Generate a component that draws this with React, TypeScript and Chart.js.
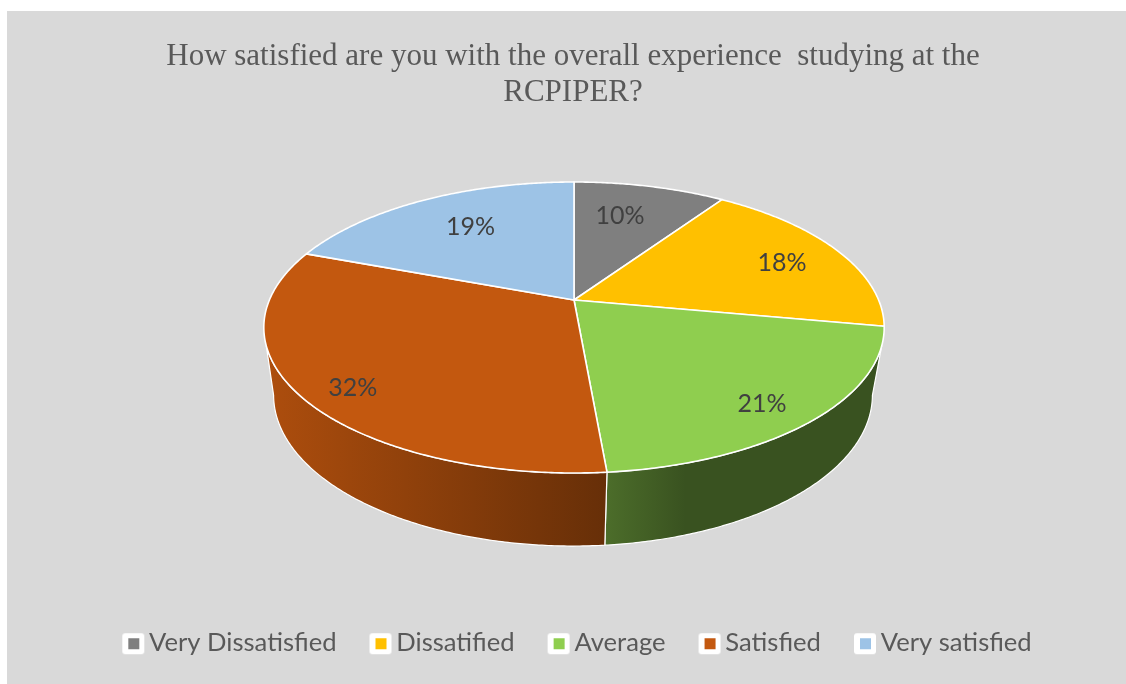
import React, { useEffect, useRef } from "react";
import { Chart, registerables } from "chart.js";

Chart.register(...registerables);

const titleLines = ["How satisfied are you with the overall experience  studying at the", "RCPIPER?"];
const categories = ["Very Dissatisfied", "Dissatified", "Average", "Satisfied", "Very satisfied"];
const shares = [9.5, 18.4, 20.7, 32.1, 19.3];
const sliceColors = ["#7F7F7F", "#FFC000", "#8FCE4F", "#C3580F", "#9DC3E6"];

// label placement: distance from the pie centre (fraction of the radius) and turn from the slice's middle (degrees)
const labelReach = [0.696, 0.77, 0.846, 0.858, 0.688];
const labelTurn = [-2.9, 1.6, 2.5, -3.6, 1.5];

const WIDTH = 1126;
const HEIGHT = 684;
const K = 0.189;
const topRim = { cx: 574, cy: 300, R: 304.6, S: 140.3 };
const bottomRim = { cx: 573, cy: 366.5, R: 294, S: 145.6 };
const DEG = Math.PI / 180;

function project(rim: any, theta: number, r = 1): [number, number] {
  const X = r * Math.sin(theta);
  const Y = -r * Math.cos(theta);
  const d = 1 - K * Y;
  return [rim.cx + (rim.R * X) / d, rim.cy + (rim.S * Y) / d];
}

function rimPoints(rim: any, a: number, b: number): [number, number][] {
  const pts: [number, number][] = [];
  const n = Math.max(2, Math.ceil(Math.abs(b - a) / (0.5 * DEG)));
  for (let i = 0; i <= n; i++) pts.push(project(rim, a + ((b - a) * i) / n));
  return pts;
}

function shade(hex: string, f: number): string {
  const n = parseInt(hex.slice(1), 16);
  return `rgb(${Math.round(((n >> 16) & 255) * f)},${Math.round(((n >> 8) & 255) * f)},${Math.round((n & 255) * f)})`;
}

function tracePoly(ctx: CanvasRenderingContext2D, pts: [number, number][]) {
  ctx.beginPath();
  pts.forEach((p, i) => (i ? ctx.lineTo(p[0], p[1]) : ctx.moveTo(p[0], p[1])));
  ctx.closePath();
}

function legendMarker(color: string): HTMLCanvasElement {
  const c = document.createElement("canvas");
  c.width = 40;
  c.height = 24;
  const g = c.getContext("2d")!;
  g.fillStyle = "#FFFFFF";
  g.beginPath();
  g.roundRect(13, 2, 22, 21, 3);
  g.fill();
  g.fillStyle = color;
  g.fillRect(19, 7, 11, 11);
  return c;
}

const backdrop = {
  id: "backdrop",
  beforeDraw(chart: any) {
    const { ctx } = chart;
    ctx.save();
    ctx.fillStyle = "#D9D9D9";
    ctx.fillRect(7, 11, WIDTH - 7, HEIGHT - 11);
    ctx.restore();
  },
  afterLayout(chart: any) {
    chart.legend.left += 4;
    chart.legend.right += 4;
  },
};

const perspectivePie = {
  id: "perspectivePie",
  beforeDatasetsDraw(chart: any) {
    const { ctx } = chart;
    const meta = chart.getDatasetMeta(0);
    const values: number[] = chart.data.datasets[0].data;
    const total = values.reduce((a, b) => a + b, 0);
    const arcs = meta.data.map((el: any) => ({
      s: el.startAngle + Math.PI / 2,
      e: el.endAngle + Math.PI / 2,
    }));
    ctx.save();
    ctx.lineJoin = "round";

    const wallFrom = 108 * DEG, wallTo = 252 * DEG;
    const baseFrom = 101 * DEG, baseTo = 259 * DEG;
    arcs.forEach((a: any, i: number) => {
      if (a.e <= wallFrom || a.s >= wallTo) return;
      const t0 = Math.max(a.s, wallFrom), t1 = Math.min(a.e, wallTo);
      const b0 = a.s < wallFrom ? baseFrom : a.s;
      const b1 = a.e > wallTo ? baseTo : a.e;
      const pts = [...rimPoints(topRim, t0, t1), ...rimPoints(bottomRim, b1, b0)];
      const grad = ctx.createLinearGradient(272, 0, 880, 0);
      const base = chart.data.datasets[0].backgroundColor[i];
      grad.addColorStop(0, shade(base, 0.88));
      grad.addColorStop(0.55, shade(base, 0.53));
      grad.addColorStop(0.68, shade(base, 0.4));
      grad.addColorStop(1, shade(base, 0.4));
      tracePoly(ctx, pts);
      ctx.fillStyle = grad;
      ctx.fill();
      ctx.strokeStyle = "#FFFFFF";
      ctx.lineWidth = 1.2;
      ctx.stroke();
    });

    arcs.forEach((a: any, i: number) => {
      const pts: [number, number][] = [[topRim.cx, topRim.cy], ...rimPoints(topRim, a.s, a.e)];
      tracePoly(ctx, pts);
      ctx.fillStyle = chart.data.datasets[0].backgroundColor[i];
      ctx.fill();
      ctx.strokeStyle = "#FFFFFF";
      ctx.lineWidth = 1.6;
      ctx.stroke();
    });

    ctx.font = "25px Lato";
    ctx.fillStyle = "#404040";
    ctx.textAlign = "center";
    ctx.textBaseline = "middle";
    arcs.forEach((a: any, i: number) => {
      const [x, y] = project(topRim, (a.s + a.e) / 2 + labelTurn[i] * DEG, labelReach[i]);
      ctx.fillText(`${Math.round((values[i] / total) * 100)}%`, x, y);
    });
    ctx.restore();
    return false;
  },
};

export default function App() {
  const ref = useRef<HTMLCanvasElement>(null);
  useEffect(() => {
    const chart = new Chart(ref.current!, {
      type: "pie",
      data: {
        labels: categories,
        datasets: [{ data: shares, backgroundColor: sliceColors, borderColor: "#FFFFFF", borderWidth: 1.5 }],
      },
      options: {
        responsive: false,
        animation: false,
        events: [],
        layout: { padding: { left: 20, right: 0, top: 0, bottom: 18 } },
        plugins: {
          title: {
            display: true,
            text: titleLines,
            color: "#595959",
            font: { family: "'Liberation Serif'", size: 31, weight: "normal", lineHeight: 36 / 31 },
            padding: { top: 39, bottom: 10 },
          },
          legend: {
            display: true,
            position: "bottom",
            labels: {
              color: "#595959",
              font: { family: "Lato", size: 25.6 },
              usePointStyle: true,
              pointStyleWidth: 14,
              boxHeight: 14,
              padding: 33,
              generateLabels(c: any) {
                return Chart.overrides.pie.plugins.legend.labels.generateLabels(c).map((l: any, i: number) => ({
                  ...l,
                  pointStyle: legendMarker(sliceColors[i]),
                }));
              },
            },
          },
          tooltip: { enabled: false },
        },
      } as any,
      plugins: [backdrop, perspectivePie],
    });
    return () => chart.destroy();
  }, []);
  return (
    <div style={{ position: "fixed", left: 0, top: 0, width: WIDTH, height: HEIGHT, background: "#FFFFFF" }}>
      <canvas ref={ref} width={WIDTH} height={HEIGHT} style={{ display: "block" }} />
    </div>
  );
}
